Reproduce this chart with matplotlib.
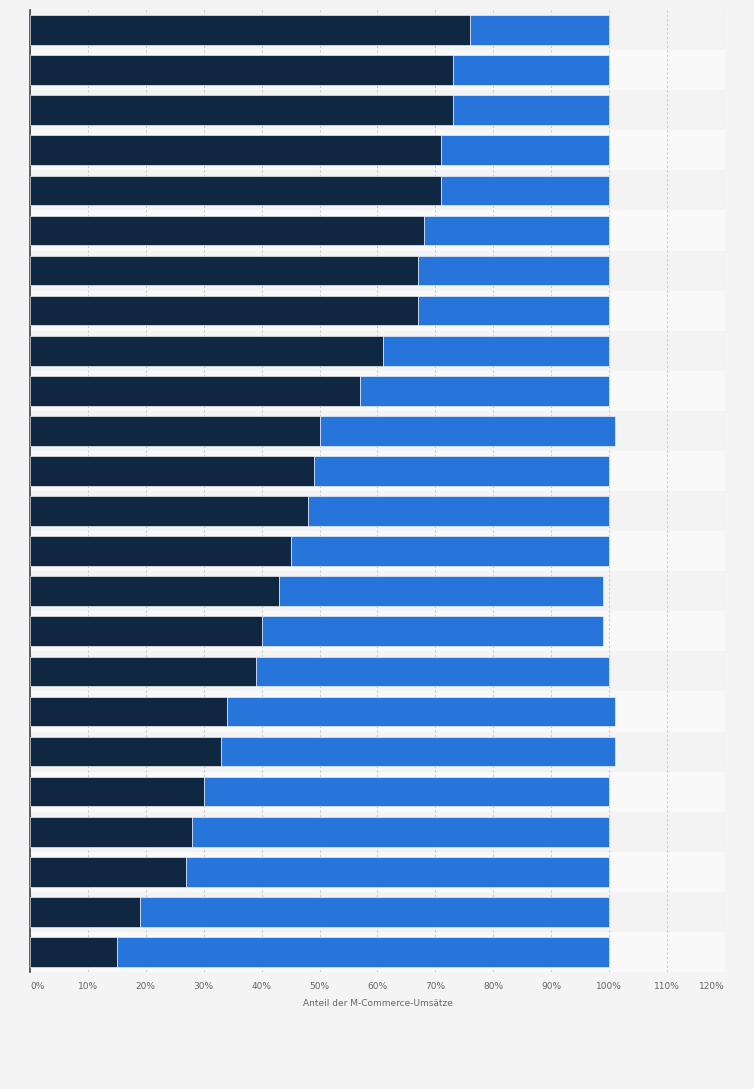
import numpy as np
import matplotlib.pyplot as plt

# Anteil der M-Commerce-Umsätze (dunkel / blau), von oben nach unten
anteil_dunkel = [76, 73, 73, 71, 71, 68, 67, 67, 61, 57, 50, 49, 48, 45,
                 43, 40, 39, 34, 33, 30, 28, 27, 19, 15]
anteil_blau = [24, 27, 27, 29, 29, 32, 33, 33, 39, 43, 51, 51, 52, 55,
               56, 59, 61, 67, 68, 70, 72, 73, 81, 85]
ticks = list(range(0, 130, 10))
tick_labels = [f"{t}%" for t in ticks]

color_dark = '#0f2740'
color_blue = '#2775db'

fig = plt.figure(figsize=(7.54, 10.89), dpi=100)
fig.patch.set_facecolor('#f4f4f4')
ax = fig.add_axes([0.0398, 0.1074, 0.9217, 0.8834])
ax.set_facecolor('#f4f4f4')

n = len(anteil_dunkel)
y = np.arange(n)

# alternierende Zeilenbänder
for i in range(n):
    ax.axhspan(i - 0.5, i + 0.5, color='#f3f3f3' if i % 2 == 0 else '#f9f9f9',
               zorder=0, lw=0)

ax.barh(y, anteil_dunkel, height=0.74, color=color_dark,
        edgecolor='#ffffff', linewidth=0.4, zorder=3)
ax.barh(y, anteil_blau, left=anteil_dunkel, height=0.74, color=color_blue,
        edgecolor='#ffffff', linewidth=0.4, zorder=3)

ax.set_xlim(0, 120)
ax.set_ylim(n - 0.5, -0.5)
ax.set_yticks([])

ax.set_xticks(ticks)
ax.set_xticklabels(tick_labels, fontsize=6.5, color='#666666')
labels = ax.get_xticklabels()
labels[0].set_ha('left')
labels[-1].set_ha('right')
ax.tick_params(axis='x', length=0, pad=7)
ax.xaxis.grid(True, linestyle=(0, (2, 2)), color='#cccccc', linewidth=0.8, zorder=1)
ax.set_axisbelow(True)

ax.set_xlabel('Anteil der M-Commerce-Umsätze', fontsize=6.5, color='#666666', labelpad=6)

for side in ['top', 'right', 'bottom']:
    ax.spines[side].set_visible(False)
ax.spines['left'].set_color('#444444')
ax.spines['left'].set_linewidth(1.2)

fig.savefig('out.png', dpi=100, facecolor=fig.get_facecolor())
